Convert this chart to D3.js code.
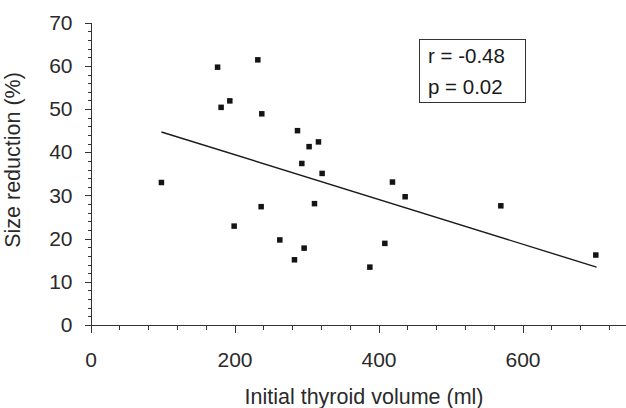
<!DOCTYPE html>
<html>
<head>
<meta charset="utf-8">
<script src="https://cdn.jsdelivr.net/npm/d3@7"></script>
<style>
  body { margin: 0; background: #fff; }
  svg { display: block; font-family: "Liberation Sans", Arial, sans-serif; }
  .axis path, .axis line { stroke: #333; stroke-width: 1; shape-rendering: crispEdges; }
  .axis text { fill: #2a2a2a; font-size: 21px; }
</style>
</head>
<body>
<div id="chart"></div>
<script>
// thyroid volume (ml) vs size reduction (%)
var volume = [98.5, 176.5, 181.4, 193.5, 199.5, 232.4, 237, 237.9, 262.9, 283.3, 287.5, 293.5,
              296.7, 303.6, 311.1, 316.6, 321.7, 388, 408.8, 419.4, 437, 569.9, 701.8];
var reduction = [33.0, 59.7, 50.4, 51.9, 22.9, 61.4, 27.4, 48.9, 19.7, 15.1, 45.0, 37.4,
                 17.8, 41.3, 28.1, 42.4, 35.1, 13.4, 18.9, 33.1, 29.7, 27.6, 16.2];

// regression line end points
var fitX = [98.5, 702.8];
var fitY = [44.7, 13.4];

var xTicks = [0, 200, 400, 600];
var yTicks = [0, 10, 20, 30, 40, 50, 60, 70];
var statsText = ["r = -0.48", "p = 0.02"];

var W = 626, H = 408;
var x0 = 90.5, yBase = 325;

var svg = d3.select("#chart")
    .append("svg")
        .attr("width", W)
        .attr("height", H);

var x = d3.scaleLinear().domain([0, 800]).range([x0, x0 + 800 * 0.72]),
    y = d3.scaleLinear().domain([0, 70]).range([yBase, 22.7]);

// minor ticks first, then the labelled ones
svg.append("g")
  .attr("class", "axis")
  .attr("transform", "translate(0," + yBase + ")")
  .call(d3.axisBottom(x).tickValues(d3.range(0, 801, 40)).tickSize(5).tickFormat(""))
  .select(".domain").remove();

svg.append("g")
  .attr("class", "axis axis--x")
  .attr("transform", "translate(0," + yBase + ")")
  .call(d3.axisBottom(x).tickValues(xTicks).tickSize(8).tickPadding(19).tickSizeOuter(0));

svg.append("g")
  .attr("class", "axis")
  .attr("transform", "translate(" + x0 + ",0)")
  .call(d3.axisLeft(y).tickValues(d3.range(0, 71, 2)).tickSize(3).tickFormat(""))
  .select(".domain").remove();

svg.append("g")
  .attr("class", "axis axis--y")
  .attr("transform", "translate(" + x0 + ",0)")
  .call(d3.axisLeft(y).tickValues(yTicks).tickSize(6).tickPadding(12).tickSizeOuter(0));

// axis titles
svg.append("text")
  .attr("x", 364)
  .attr("y", 404)
  .attr("text-anchor", "middle")
  .attr("fill", "#2a2a2a")
  .style("font-size", "21.5px")
  .text("Initial thyroid volume (ml)");

svg.append("text")
  .attr("transform", "translate(20,160) rotate(-90)")
  .attr("text-anchor", "middle")
  .attr("fill", "#2a2a2a")
  .style("font-size", "21.5px")
  .text("Size reduction (%)");

// fitted line
var fit = fitX.map(function(d, i) { return [d, fitY[i]]; });
svg.append("path")
  .datum(fit)
  .attr("fill", "none")
  .attr("stroke", "#1a1a1a")
  .attr("stroke-width", 1.4)
  .attr("d", d3.line().x(function(d) { return x(d[0]); }).y(function(d) { return y(d[1]); }));

// data points
var s = 5.5;
svg.append("g")
  .selectAll("rect")
  .data(volume)
  .enter().append("rect")
    .attr("x", function(d) { return x(d) - s / 2; })
    .attr("y", function(d, i) { return y(reduction[i]) - s / 2; })
    .attr("width", s)
    .attr("height", s)
    .attr("fill", "#141414");

// stats box
svg.append("rect")
  .attr("x", 419.5)
  .attr("y", 39.5)
  .attr("width", 106)
  .attr("height", 63)
  .attr("fill", "#fff")
  .attr("stroke", "#333")
  .attr("stroke-width", 1);

svg.selectAll(".stat")
  .data(statsText)
  .enter().append("text")
    .attr("class", "stat")
    .attr("x", 428)
    .attr("y", function(d, i) { return 63.3 + i * 30.7; })
    .attr("fill", "#1a1a1a")
    .style("font-size", "20.5px")
    .text(function(d) { return d; });
</script>
</body>
</html>
